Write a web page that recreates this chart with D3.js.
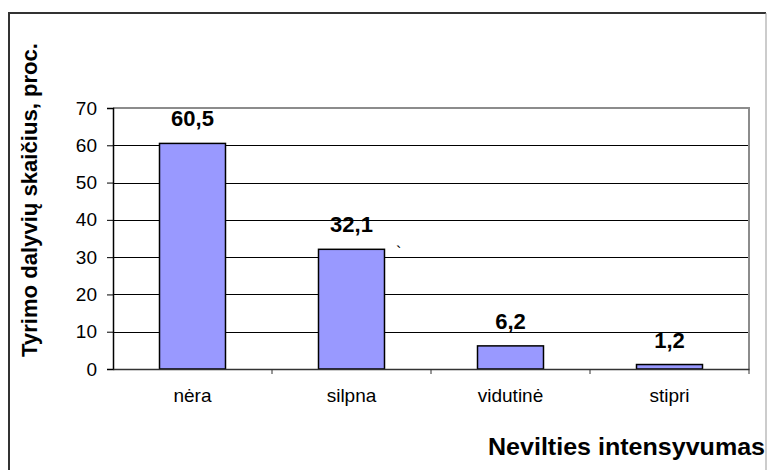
<!DOCTYPE html>
<html>
<head>
<meta charset="utf-8">
<script src="https://cdn.jsdelivr.net/npm/d3@7"></script>
<style>
  html, body { margin: 0; padding: 0; background: #fff; }
  svg { display: block; font-family: "Liberation Sans", Arial, sans-serif; }
</style>
</head>
<body>
<svg id="chart" width="767" height="470"></svg>
<script>
const categories = ["nėra", "silpna", "vidutinė", "stipri"];
const values = [60.5, 32.1, 6.2, 1.2];
const valueLabels = ["60,5", "32,1", "6,2", "1,2"];
const yTicks = [0, 10, 20, 30, 40, 50, 60, 70];
const yTitle = "Tyrimo dalyvių skaičius, proc.";
const xTitle = "Nevilties intensyvumas";

const svg = d3.select("#chart");
const plot = { left: 113, right: 749, top: 108, bottom: 369 };

// outer chart border
svg.append("line").attr("x1", 9).attr("y1", 13).attr("x2", 766).attr("y2", 13)
  .attr("stroke", "#333").attr("stroke-width", 2);
svg.append("line").attr("x1", 9).attr("y1", 12).attr("x2", 9).attr("y2", 470)
  .attr("stroke", "#333").attr("stroke-width", 2);
svg.append("line").attr("x1", 766).attr("y1", 13).attr("x2", 766).attr("y2", 470)
  .attr("stroke", "#999").attr("stroke-width", 1);

const y = d3.scaleLinear().domain([0, 70]).range([plot.bottom, plot.top]);
const xBand = d3.scaleBand().domain(categories).range([plot.left, plot.right]).padding(0);
const xBar = d3.scaleBand().domain(categories).range([plot.left, plot.right])
  .paddingInner(0.585).paddingOuter(0.2925);

// gridlines
svg.append("g").selectAll("line").data(yTicks.filter(t => t > 0 && t < 70)).join("line")
  .attr("x1", plot.left).attr("x2", plot.right)
  .attr("y1", d => Math.round(y(d)) + 0.5).attr("y2", d => Math.round(y(d)) + 0.5)
  .attr("stroke", "#000").attr("stroke-width", 1);

// plot area border top/right (gray)
svg.append("path")
  .attr("d", `M${plot.left},${y(70)}H${plot.right}V${plot.bottom}`)
  .attr("fill", "none").attr("stroke", "#8c8c8c").attr("stroke-width", 2);

// bars
svg.append("g").selectAll("rect").data(values).join("rect")
  .attr("x", (d, i) => xBar(categories[i]))
  .attr("width", xBar.bandwidth())
  .attr("y", d => y(d))
  .attr("height", d => y(0) - y(d))
  .attr("fill", "#9999ff").attr("stroke", "#000").attr("stroke-width", 1.5);

// y axis
const yAxis = d3.axisLeft(y).tickValues(yTicks).tickSize(6).tickPadding(10)
  .tickFormat(d3.format("d"));
const gy = svg.append("g").attr("transform", `translate(${plot.left},0)`).call(yAxis);
gy.select(".domain").attr("stroke", "#000").attr("stroke-width", 1.5);
gy.selectAll(".tick line").attr("stroke", "#000").attr("stroke-width", 1);
gy.selectAll(".tick text").attr("font-size", 19).attr("fill", "#000")
  .attr("font-family", "Liberation Sans, Arial, sans-serif");

// x axis
const xAxis = d3.axisBottom(xBand).tickSize(0).tickPadding(20);
const gx = svg.append("g").attr("transform", `translate(0,${plot.bottom})`).call(xAxis);
gx.select(".domain").attr("stroke", "#333").attr("stroke-width", 1.5);
gx.selectAll(".tick text").attr("font-size", 19).attr("fill", "#000")
  .attr("font-family", "Liberation Sans, Arial, sans-serif");
// x tick marks at band boundaries
const boundaries = categories.map(c => xBand(c)).concat([plot.right]).slice(1);
svg.append("g").selectAll("line").data(boundaries).join("line")
  .attr("x1", d => d).attr("x2", d => d)
  .attr("y1", plot.bottom).attr("y2", plot.bottom + 5)
  .attr("stroke", "#333").attr("stroke-width", 1);

// value labels
svg.append("g").selectAll("text").data(values).join("text")
  .attr("x", (d, i) => xBand(categories[i]) + xBand.bandwidth() / 2)
  .attr("y", d => y(d) - 17)
  .attr("text-anchor", "middle")
  .attr("font-size", 22).attr("font-weight", "bold").attr("fill", "#000")
  .text((d, i) => valueLabels[i]);

// stray backtick
svg.append("text").attr("x", 396).attr("y", 258).attr("font-size", 16)
  .attr("fill", "#000").text("`");

// y title
svg.append("text")
  .attr("transform", "translate(37,200) rotate(-90)")
  .attr("text-anchor", "middle")
  .attr("font-size", 22).attr("font-weight", "bold").attr("fill", "#000")
  .attr("textLength", 314).attr("lengthAdjust", "spacingAndGlyphs")
  .text(yTitle);

// x title
svg.append("text")
  .attr("x", 488).attr("y", 455)
  .attr("font-size", 24).attr("font-weight", "bold").attr("fill", "#000")
  .attr("textLength", 277).attr("lengthAdjust", "spacingAndGlyphs")
  .text(xTitle);
</script>
</body>
</html>
